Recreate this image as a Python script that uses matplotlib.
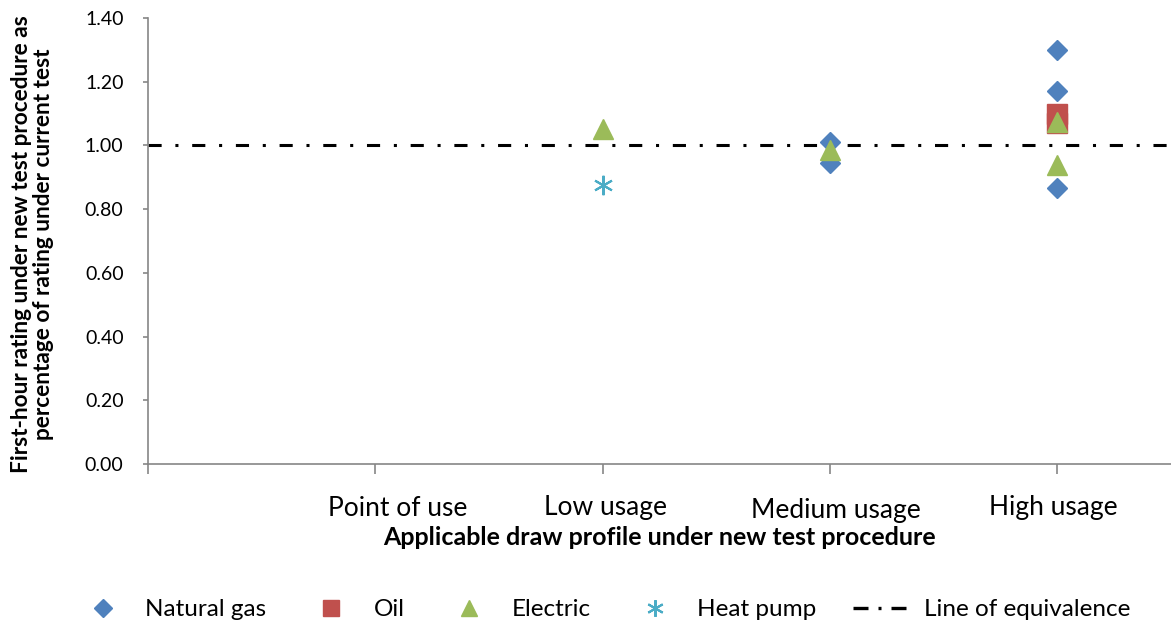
import numpy as np
import matplotlib
matplotlib.use("Agg")
import matplotlib.pyplot as plt
from matplotlib.lines import Line2D

plt.rcParams['font.family'] = ['Lato', 'DejaVu Sans']

# Data (x = profile position: 1 point of use, 2 low, 3 medium, 4 high)
categories = ['Point of use', 'Low usage', 'Medium usage', 'High usage']
cat_pos = [1, 2, 3, 4]

gas_x = [3, 3, 4, 4, 4]
gas_y = [1.01, 0.945, 1.30, 1.17, 0.865]

oil_x = [4, 4]
oil_y = [1.10, 1.07]

elec_x = [2, 3, 4, 4]
elec_y = [1.05, 0.985, 1.075, 0.94]

hp_x = [2]
hp_y = [0.875]

equiv_x = [0, 4.5]
equiv_y = [1.0, 1.0]

# Colours
c_gas = '#4F81BD'
c_oil = '#C0504D'
c_elec = '#9BBB59'
c_hp = '#4BACC6'
c_axis = '#868686'

fig = plt.figure(figsize=(11.71, 6.30), dpi=100)
ax = fig.add_axes([0.1264, 0.2635, 0.8736, 0.708])

eq_dash = (0, (4.3, 4.5, 1.0, 4.5))
ax.plot(equiv_x, equiv_y, color='black', lw=2.2, linestyle=eq_dash, zorder=2)

ax.plot(gas_x, gas_y, 'D', color=c_gas, ms=10, mec=c_gas, zorder=3)
ax.plot(oil_x, oil_y, 's', color=c_oil, ms=14, mec=c_oil, zorder=4)
ax.plot(elec_x, elec_y, '^', color=c_elec, ms=14, mec=c_elec, zorder=5)
ax.plot(hp_x, hp_y, marker=(6, 2, 0), color=c_hp, ms=14, mew=1.5, ls='none', zorder=5)

ax.set_xlim(0, 4.5)
ax.set_ylim(0, 1.40)
yt = np.arange(0, 1.41, 0.2)
ax.set_yticks(yt)
ax.set_yticklabels([f'{v:.2f}' for v in yt], fontsize=14)
ax.set_xticks([0] + cat_pos)
ax.set_xticklabels([''] * 5)

# category labels sit well below the axis (offsets in pixels)
label_dx = [22, 3, 6, -4]
label_dy = [-52, -51, -54, -51]
for p, name, dx, dy in zip(cat_pos, categories, label_dx, label_dy):
    ax.annotate(name, xy=(p, 0), xycoords='data', xytext=(dx / 1.389, dy / 1.389),
                textcoords='offset points', ha='center', va='baseline', fontsize=19)

for s in ['top', 'right']:
    ax.spines[s].set_visible(False)
for s in ['left', 'bottom']:
    ax.spines[s].set_color(c_axis)
    ax.spines[s].set_linewidth(1.2)
ax.tick_params(axis='x', direction='out', length=7, color=c_axis, width=1.2)
ax.tick_params(axis='y', direction='out', length=3.6, color=c_axis, width=1.2, pad=14)

fig.text(0.5628, 0.135, 'Applicable draw profile under new test procedure',
         ha='center', va='baseline', fontsize=18, fontweight='bold')
fig.text(0.0278, 0.613, 'First-hour rating under new test procedure as\npercentage of rating under current test',
         ha='center', va='center', rotation=90, fontsize=16.3, fontweight='bold',
         linespacing=1.05)

handles = [
    Line2D([], [], marker='D', color=c_gas, ls='none', ms=9),
    Line2D([], [], marker='s', color=c_oil, ls='none', ms=12),
    Line2D([], [], marker='^', color=c_elec, ls='none', ms=12),
    Line2D([], [], marker=(6, 2, 0), color=c_hp, ls='none', ms=12, mew=1.5),
    Line2D([], [], color='black', lw=2.4, linestyle=(0, (4.5, 3, 0.9, 3))),
]
labels = ['Natural gas', 'Oil', 'Electric', 'Heat pump', 'Line of equivalence']
fig.legend(handles, labels, loc='center', bbox_to_anchor=(0.5145, 0.032), ncol=5,
           frameon=False, fontsize=17.5, columnspacing=1.5, handlelength=2.3,
           handletextpad=0.6, borderpad=0, borderaxespad=0)

fig.savefig('out.png', dpi=100)
